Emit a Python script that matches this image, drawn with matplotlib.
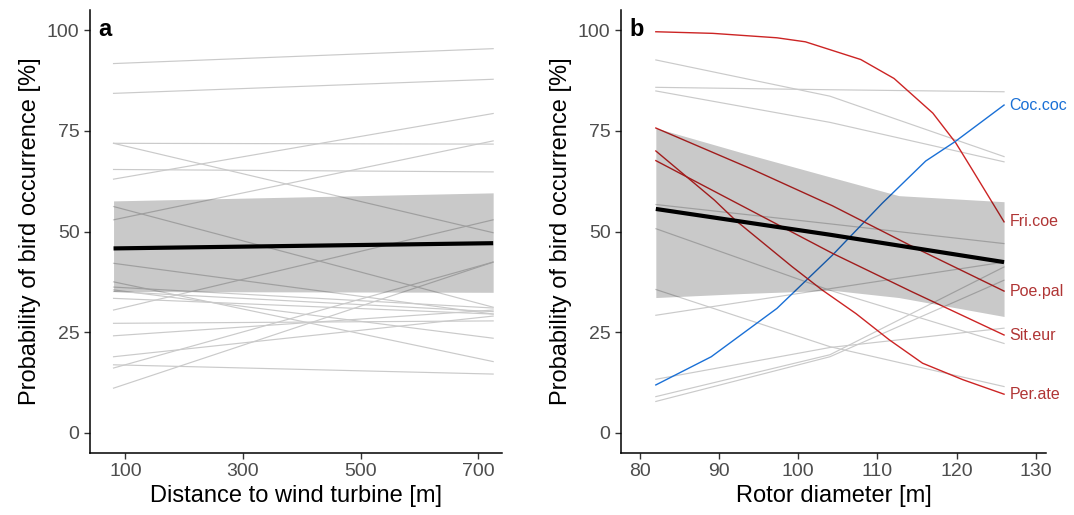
import numpy as np
import matplotlib.pyplot as plt

plt.rcParams['font.family'] = ['Liberation Sans', 'DejaVu Sans']

# ---- panel a: distance to wind turbine ----
dist = [80, 725]
a_start = [91.7, 84.3, 71.9, 71.9, 65.4, 63.0, 52.9, 56.2, 42.1, 30.5, 11.1,
           16.1, 37.5, 35.5, 35.1, 33.4, 36.2, 27.2, 24.1, 18.9, 16.9]
a_end = [95.4, 87.8, 71.7, 49.7, 64.8, 79.3, 72.5, 31.2, 29.5, 52.9, 42.4,
         42.4, 17.7, 23.5, 30.1, 29.5, 31.0, 27.8, 30.5, 29.0, 14.6]
a_mean = [45.8, 47.1]
a_lo = [35.1, 34.9]
a_hi = [57.6, 59.6]

# ---- panel b: rotor diameter ----
rotor = [82, 104, 126]
b_gray = [[92.6, 83.6, 68.6],
          [85.8, 85.2, 84.7],
          [84.9, 77.1, 67.3],
          [56.7, 51.9, 47.0],
          [50.7, 35.4, 22.2],
          [35.6, 21.4, 11.5],
          [29.2, 35.8, 42.4],
          [13.3, 21.2, 26.0],
          [9.0, 19.4, 41.2],
          [7.8, 18.9, 37.9]]
b_mean = [55.6, 49.2, 42.4]
rib_x = [82, 93, 104.3, 112.7, 126]
rib_hi = [75.7, 69.5, 63.4, 58.9, 57.4]
rib_lo = [33.6, 34.6, 35.4, 33.6, 28.9]

fri_x = [82, 89.2, 97.3, 100.9, 107.9, 112.1, 117, 119.9, 122, 126]
fri_y = [99.6, 99.2, 98.1, 97.1, 92.7, 88.0, 79.4, 72.0, 65.3, 52.4]
coc_x = [82, 89, 97.3, 104.3, 110.6, 116.1, 119.8, 126]
coc_y = [11.9, 18.9, 30.9, 44.1, 57.0, 67.5, 72.3, 81.4]
poe_x = [82, 94, 104.3, 114.4, 126]
poe_y = [75.7, 65.6, 56.4, 46.3, 35.2]
sit_x = [82, 91.5, 104.3, 114.4, 126]
sit_y = [67.6, 57.8, 44.6, 35.0, 24.3]
per_x = [82, 89.4, 92, 99.2, 103, 107.3, 111.5, 115.7, 120.8, 126]
per_y = [70.0, 57.8, 52.9, 41.3, 35.5, 29.6, 23.1, 17.3, 13.2, 9.6]

red = '#cc2424'
red_txt = '#b03535'
blue = '#1a70d6'
gray = '#cacaca'

fig = plt.figure(figsize=(10.74, 5.15), dpi=100)
ax1 = fig.add_axes([90/1074, 1-453/515, 412/1074, 443/515])
ax2 = fig.add_axes([621/1074, 1-453/515, 425/1074, 443/515])

# panel a
for s, e in zip(a_start, a_end):
    ax1.plot(dist, [s, e], color=gray, lw=0.85, zorder=1)
ax1.fill_between(dist, a_lo, a_hi, color='black', alpha=0.21, lw=0, zorder=2)
ax1.plot(dist, a_mean, color='black', lw=3, zorder=3, solid_capstyle='butt')
ax1.set_xlim(40, 740)
ax1.set_xticks([100, 300, 500, 700])
ax1.set_xlabel('Distance to wind turbine [m]', fontsize=17, labelpad=3)

# panel b
for g in b_gray:
    ax2.plot(rotor, g, color=gray, lw=0.85, zorder=1)
for xs, ys, c in [(fri_x, fri_y, red), (coc_x, coc_y, blue), (poe_x, poe_y, red),
                  (sit_x, sit_y, red), (per_x, per_y, red)]:
    ax2.plot(xs, ys, color=c, lw=1.0, zorder=1.5)
ax2.fill_between(rib_x, rib_lo, rib_hi, color='black', alpha=0.21, lw=0, zorder=2)
ax2.plot(rotor, b_mean, color='black', lw=3, zorder=3, solid_capstyle='butt')
for lab, xs, ys, c in [('Coc.coc', coc_x, coc_y, blue), ('Fri.coe', fri_x, fri_y, red_txt),
                       ('Poe.pal', poe_x, poe_y, red_txt), ('Sit.eur', sit_x, sit_y, red_txt),
                       ('Per.ate', per_x, per_y, red_txt)]:
    ax2.annotate(lab, (xs[-1], ys[-1]), xytext=(4, 0), textcoords='offset points',
                 color=c, fontsize=11.5, va='center', ha='left', annotation_clip=False)
ax2.set_xlim(77.6, 131.3)
ax2.set_xticks([80, 90, 100, 110, 120, 130])
ax2.set_xlabel('Rotor diameter [m]', fontsize=17, labelpad=3)

for ax, letter in [(ax1, 'a'), (ax2, 'b')]:
    ax.set_ylim(-5, 105)
    ax.set_yticks([0, 25, 50, 75, 100])
    ax.set_ylabel('Probability of bird occurrence [%]', fontsize=17, labelpad=4)
    ax.spines['top'].set_visible(False)
    ax.spines['right'].set_visible(False)
    ax.spines['left'].set_linewidth(1.1)
    ax.spines['bottom'].set_linewidth(1.1)
    ax.tick_params(colors='#333333', labelcolor='#4d4d4d', labelsize=14,
                   length=4, width=1)
    ax.text(0.02, 0.955, letter, transform=ax.transAxes, fontsize=17,
            fontweight='bold', ha='left', va='center')

fig.savefig('out.png', dpi=100)
